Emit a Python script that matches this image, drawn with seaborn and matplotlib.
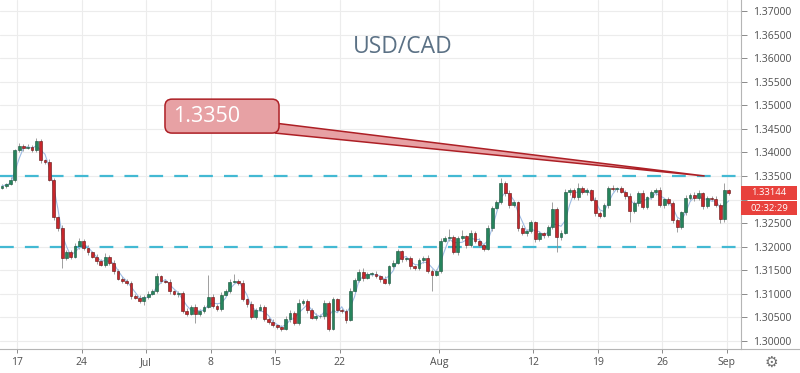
import numpy as np
import pandas as pd
import matplotlib
matplotlib.use("Agg")
import matplotlib.pyplot as plt
import seaborn as sns
from matplotlib.patches import FancyBboxPatch, Polygon, Rectangle
from matplotlib.lines import Line2D
from matplotlib.transforms import blended_transform_factory

# ---------------- data ----------------
title = "USD/CAD"
# 8-hour candles, closes in pips above 1.3000 (Jun 13 -> Aug 30, 2019)
close_pips = [
    329, 333, 342, 405, 414, 410, 412, 405, 425, 384,
    380, 342, 262, 239, 175, 188, 179, 201, 213, 198,
    188, 179, 169, 162, 179, 166, 149, 132, 128, 122,
    96, 92, 85, 94, 100, 107, 137, 128, 126, 105,
    100, 102, 64, 58, 73, 58, 64, 73, 94, 75,
    68, 98, 107, 126, 128, 124, 88, 79, 51, 66,
    73, 47, 41, 34, 30, 26, 47, 60, 38, 81,
    85, 66, 49, 53, 53, 81, 26, 88, 66, 64,
    45, 107, 130, 147, 134, 143, 143, 137, 132, 124,
    158, 166, 190, 173, 175, 158, 154, 171, 177, 149,
    141, 149, 213, 218, 220, 188, 218, 222, 203, 230,
    213, 203, 196, 239, 282, 294, 335, 314, 288, 294,
    239, 228, 233, 252, 216, 228, 224, 241, 280, 220,
    230, 316, 320, 305, 324, 316, 320, 299, 271, 265,
    288, 324, 322, 324, 316, 307, 275, 292, 314, 284,
    305, 316, 320, 288, 301, 292, 256, 241, 273, 303,
    310, 303, 314, 286, 303, 301, 288, 258, 320, 314,
]
first_open_pips = 325
upper_wick = [
    4, 3, 5, 3, 6, 4, 5, 3, 6, 4,
    3, 5, 4, 3, 6, 5, 4, 7, 5, 4,
    6, 3, 5, 4, 8, 3, 5, 4, 6, 3,
    5, 4, 6, 3, 5, 4, 7, 4, 3, 6,
    4, 5, 3, 6, 4, 5, 3, 4, 45, 5,
    4, 6, 3, 5, 15, 4, 6, 3, 5, 4,
    6, 3, 4, 5, 3, 4, 6, 5, 3, 7,
    4, 5, 3, 6, 4, 5, 3, 6, 4, 5,
    3, 6, 4, 5, 7, 3, 4, 5, 3, 6,
    4, 5, 6, 3, 4, 5, 3, 6, 4, 5,
    3, 4, 6, 5, 18, 4, 5, 14, 3, 6,
    4, 5, 3, 6, 4, 5, 11, 4, 6, 5,
    3, 6, 4, 5, 3, 6, 4, 5, 14, 4,
    5, 6, 4, 5, 12, 4, 5, 3, 6, 4,
    5, 4, 6, 3, 5, 4, 6, 5, 4, 6,
    3, 5, 4, 6, 3, 5, 4, 5, 3, 6,
    4, 5, 6, 3, 5, 4, 6, 4, 15, 3,
]
lower_wick = [
    3, 4, 3, 5, 4, 6, 3, 5, 4, 6,
    4, 3, 6, 5, 21, 4, 5, 3, 6, 4,
    5, 4, 6, 3, 5, 4, 7, 3, 5, 4,
    6, 3, 5, 9, 4, 3, 5, 6, 4, 5,
    3, 6, 4, 5, 3, 20, 4, 5, 3, 6,
    4, 5, 3, 6, 4, 5, 3, 6, 4, 5,
    3, 5, 6, 4, 5, 5, 3, 6, 4, 5,
    4, 6, 3, 5, 4, 6, 4, 3, 5, 4,
    6, 3, 5, 4, 6, 3, 5, 4, 6, 3,
    5, 4, 3, 6, 4, 5, 3, 4, 6, 5,
    34, 4, 5, 3, 6, 4, 5, 3, 6, 4,
    5, 3, 6, 4, 5, 3, 4, 6, 5, 4,
    6, 4, 5, 3, 6, 4, 5, 3, 4, 32,
    5, 4, 6, 3, 5, 4, 6, 3, 5, 4,
    3, 5, 4, 6, 3, 5, 23, 4, 5, 3,
    5, 4, 6, 3, 5, 4, 6, 10, 4, 5,
    3, 6, 4, 5, 3, 5, 4, 8, 5, 4,
]
start_day = -4 / 3          # trading days relative to Mon Jun 17
bars_per_day = 3

date_tick_pos = [0, 5, 10, 15, 20, 25, 32.7, 40, 45, 50, 55]
date_tick_labels = ["17", "24", "Jul", "8", "15", "22", "Aug", "12", "19", "26", "Sep"]
price_ticks = [1.300, 1.305, 1.310, 1.315, 1.320, 1.325, 1.330, 1.335,
               1.340, 1.345, 1.350, 1.355, 1.360, 1.365, 1.370]
hidden_price_labels = [1.330]   # covered by the last-price tag
support_level = 1.3200
resistance_level = 1.3350
callout_text = "1.3350"
callout_target = (53.3, 1.3350)
last_price_text = "1.33144"
last_price = 1.33144
countdown_text = "02:32:29"

# ---------------- table ----------------
n = len(close_pips)
closes = 1.3 + np.array(close_pips) / 10000
opens = np.concatenate([[1.3 + first_open_pips / 10000], closes[:-1]])
highs = np.maximum(opens, closes) + np.array(upper_wick) / 10000
lows = np.minimum(opens, closes) - np.array(lower_wick) / 10000
t = start_day + (np.arange(n) + 0.5) / bars_per_day
df = pd.DataFrame({"t": t, "open": opens, "close": closes, "high": highs, "low": lows})
df["up"] = df["close"] >= df["open"]
df["ma"] = df["close"].rolling(3, min_periods=1).mean()

# ---------------- style ----------------
sns.set_theme(style="white")
plt.rcParams["font.family"] = ["Open Sans", "DejaVu Sans"]

W, H = 800, 373
fig = plt.figure(figsize=(W / 100, H / 100), dpi=100)
ax_right_px, ax_bottom_px = 741, 349
ax = fig.add_axes([0, 1 - ax_bottom_px / H, ax_right_px / W, ax_bottom_px / H])

ax.set_xlim(-1.318, 56.12)
ax.set_ylim(1.2983, 1.37233)

grid_col = "#ececec"
for p in price_ticks:
    ax.axhline(p, color=grid_col, lw=0.8, zorder=0)
for d in date_tick_pos:
    ax.axvline(d, color=grid_col, lw=0.8, zorder=0)

# support / resistance dashed lines
for lvl in (support_level, resistance_level):
    ax.axhline(lvl, color="#43b9d3", lw=1.6, dashes=(6.2, 5.0), zorder=1)

# candles
wick_col = "#8f8f8f"
ax.vlines(df["t"], df["low"], df["high"], color=wick_col, lw=0.6, zorder=2)
body_bottom = np.minimum(df["open"], df["close"])
body_h = np.maximum(np.abs(df["close"] - df["open"]), 0.00004)
face = np.where(df["up"], "#26845c", "#c8262b")
edge = np.where(df["up"], "#17513a", "#5e1111")
ax.bar(df["t"], body_h, bottom=body_bottom, width=0.22, color=face,
       edgecolor=edge, linewidth=0.4, zorder=3)

# moving-average line
sns.lineplot(data=df, x="t", y="ma", color="#9dbbe3", lw=0.8, ax=ax, zorder=2.5)

# axes styling
ax.set_xlabel("")
ax.set_ylabel("")
ax.set_xticks(date_tick_pos)
ax.set_xticklabels(date_tick_labels)
ax.set_yticks(price_ticks)
ax.set_yticklabels(["" if p in hidden_price_labels else f"{p:.5f}" for p in price_ticks])
ax.yaxis.tick_right()
ax.tick_params(axis="y", which="both", right=True, left=False, length=4, width=0.7,
               color="#8a8a8a", labelsize=7.5, labelcolor="#4f4f4f", pad=5)
ax.tick_params(axis="x", which="both", bottom=True, length=3, width=0.7,
               color="#8a8a8a", labelsize=7.5, labelcolor="#4f4f4f", pad=3)
for s in ("top", "left"):
    ax.spines[s].set_visible(False)
ax.spines["right"].set_color("#b5b5b5")
ax.spines["right"].set_linewidth(0.8)
ax.spines["bottom"].set_color("#b5b5b5")
ax.spines["bottom"].set_linewidth(0.8)
ax.set_facecolor("white")
fig.patch.set_facecolor("white")
# bottom line continues under the price scale
fig.add_artist(Line2D([ax_right_px / W, 1], [1 - ax_bottom_px / H] * 2,
                      color="#b5b5b5", lw=0.8))

# title
fig.text(403 / W, 1 - 47 / H, title, ha="center", va="center",
         fontsize=16.5, color="#5b7185")

# callout box with tail
box_t0, box_t1 = 11.47, 20.31
box_ptop, box_pbot = 1.3513, 1.3441
td = ax.transData
(bx0, by0) = td.transform((box_t0, box_pbot))
(bx1, by1) = td.transform((box_t1, box_ptop))
tip = td.transform(callout_target)
tail = Polygon([(bx1, by1 - (by1 - by0) * 0.72), tip, (bx1 - 4, by0)],
               closed=True, transform=None, facecolor="#e7a1a4",
               edgecolor="#ad1f25", lw=1.1, zorder=5, joinstyle="miter")
fig.add_artist(tail)
box = FancyBboxPatch((bx0, by0), bx1 - bx0, by1 - by0,
                     boxstyle="round,pad=0,rounding_size=7", transform=None,
                     facecolor="#e7a1a4", edgecolor="#ad1f25", lw=1.1, zorder=6)
fig.add_artist(box)
tx, ty = td.transform((12.1, (box_ptop + box_pbot) / 2))
fig.text(tx / W, ty / H, callout_text, ha="left", va="center",
         fontsize=15.5, color="white", zorder=7)

# last-price labels on the price scale
bt = blended_transform_factory(ax.transAxes, ax.transData)
lab_h = 14 / 4714
gap = 1.5 / 4714
lab_w = 56 / ax_right_px
ax.add_patch(Rectangle((1.0, last_price - lab_h / 2), lab_w, lab_h, transform=bt,
                       facecolor="#e8413c", edgecolor="none", clip_on=False, zorder=8))
ax.add_patch(Rectangle((1.0, last_price - lab_h * 1.5 - gap), lab_w, lab_h, transform=bt,
                       facecolor="#e8413c", edgecolor="none", clip_on=False, zorder=8))
ax.text(1.0 + lab_w / 2, last_price, last_price_text, transform=bt, ha="center",
        va="center", fontsize=6.8, color="white", clip_on=False, zorder=9)
ax.text(1.0 + lab_w / 2, last_price - lab_h - gap, countdown_text, transform=bt,
        ha="center", va="center", fontsize=6.8, color="white", clip_on=False, zorder=9)

# settings gear
fig.text(771 / W, 1 - 362 / H, "\u2699", ha="center", va="center", fontsize=11,
         color="#6f6f6f", family=["DejaVu Sans"])

fig.savefig("out.png", dpi=100)
